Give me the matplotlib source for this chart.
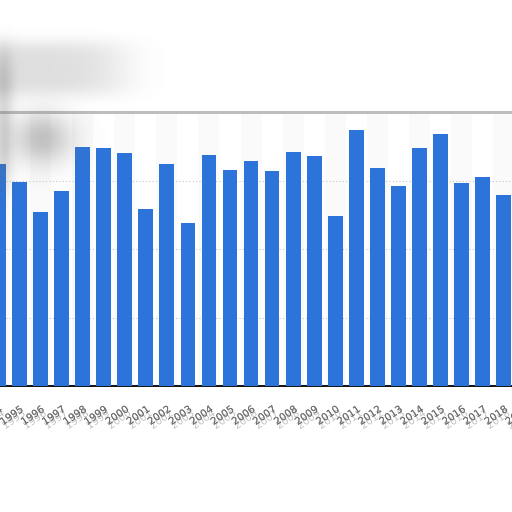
import numpy as np
import matplotlib
matplotlib.use("Agg")
import matplotlib.pyplot as plt
import matplotlib.patheffects as pe

# values (scale 0-100, grid every 25)
years = list(range(1994, 2020))
values = [81.0, 74.4, 63.4, 71.1, 87.2, 86.8, 85.0, 64.8, 81.0, 59.7,
          84.2, 78.8, 82.1, 78.4, 85.3, 83.9, 61.9, 93.4, 79.5, 72.9,
          86.8, 91.9, 74.0, 76.2, 69.6, 72.0]
tick_labels = [str(y) for y in years]

bar_color = "#2d74da"

fig = plt.figure(figsize=(5.12, 5.12), dpi=100)
# axes wider than the figure so the picture is cropped at both sides like the reference
ax = fig.add_axes([-0.0236, 0.246, 1.069, 0.535])

# very faint alternating column bands
for i, y in enumerate(years):
    if i % 2 == 0:
        ax.axvspan(y - 0.5, y + 0.5, color="#fafafa", zorder=0, lw=0)

ax.bar(years, values, width=0.70, color=bar_color, zorder=3)

ax.set_xlim(1993.5, 2019.5)
ax.set_ylim(0, 100)
ax.set_yticks([25, 50, 75])
ax.yaxis.grid(True, color="#c8c8c8", linestyle=(0, (1, 2)), linewidth=0.8, zorder=1)
ax.tick_params(axis="y", left=False, labelleft=False)

ax.set_xticks(years)
ax.set_xticklabels(tick_labels, rotation=35, ha="right", rotation_mode="anchor",
                   fontsize=7.3, color="#707070")
ax.tick_params(axis="x", length=0, pad=13)
for lab in ax.get_xticklabels():
    lab.set_path_effects([pe.withSimplePatchShadow(offset=(1.5, -3), shadow_rgbFace="#666666", alpha=0.4),
                          pe.Normal()])

for side in ["left", "right"]:
    ax.spines[side].set_visible(False)
ax.spines["bottom"].set_color("#111111")
ax.spines["bottom"].set_linewidth(1.4)
ax.spines["top"].set_color("#bdbdbd")
ax.spines["top"].set_linewidth(2.0)
ax.spines["top"].set_path_effects([pe.withSimplePatchShadow(offset=(0, 2), shadow_rgbFace="#999999", alpha=0.3),
                                   pe.Normal()])

# blurred grey smudge in the upper left corner
blur_ax = fig.add_axes([0, 0, 1, 1], zorder=5)
blur_ax.set_xlim(0, 512)
blur_ax.set_ylim(512, 0)
blur_ax.axis("off")
gx, gy = np.meshgrid(np.arange(512), np.arange(512))
alpha = (0.22 * np.exp(-(((gx - 30) / 95.0) ** 4 + ((gy - 68) / 28.0) ** 4))
         + 0.40 * np.exp(-(((gx - 42) / 30.0) ** 2 + ((gy - 138) / 26.0) ** 2))
         + 0.25 * np.exp(-(((gx - 3) / 10.0) ** 2 + ((gy - 120) / 70.0) ** 4)))
rgba = np.zeros((512, 512, 4))
rgba[..., :3] = 0.42
rgba[..., 3] = np.clip(alpha, 0, 0.6)
blur_ax.imshow(rgba, extent=(0, 512, 512, 0), interpolation="bilinear")

fig.savefig("out.png", dpi=100)
